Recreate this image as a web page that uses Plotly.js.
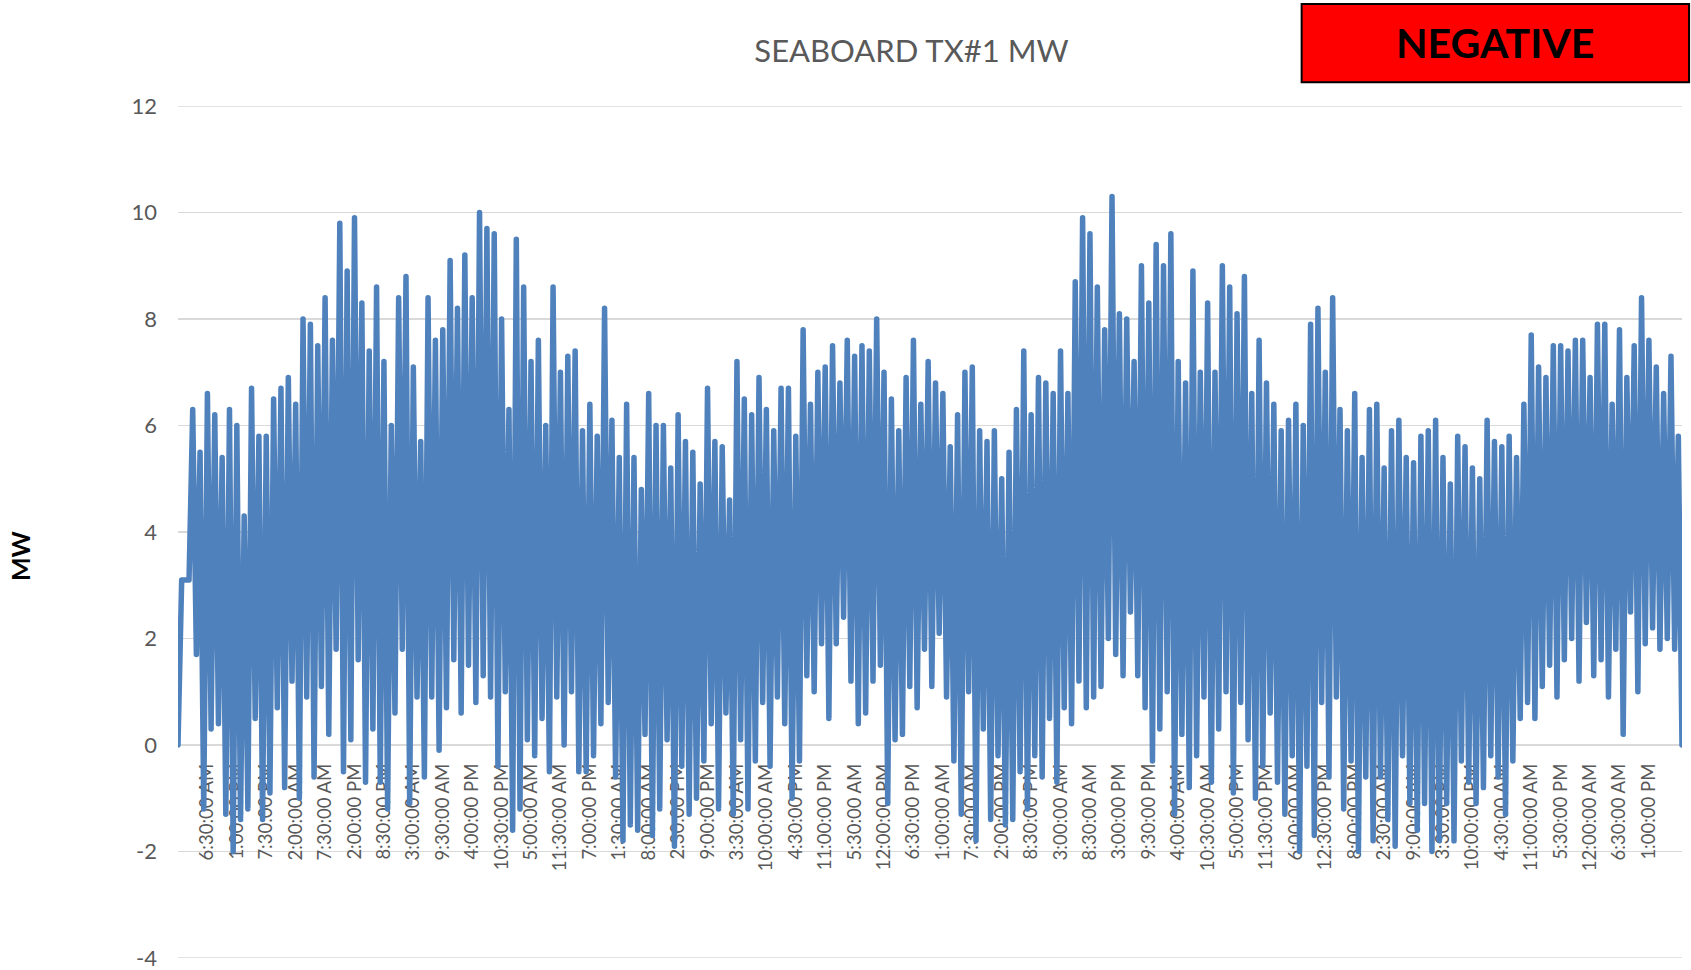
<!DOCTYPE html>
<html>
<head>
<meta charset="utf-8">
<script src="https://cdn.plot.ly/plotly-3.0.1.min.js"></script>
<style>
  html, body { margin: 0; padding: 0; background: #ffffff; }
  #chart { width: 1691px; height: 970px; }
  .scatterlayer .js-line { stroke-linejoin: round; stroke-linecap: round; }
</style>
</head>
<body>
<div id="chart"></div>
<script>
// ---- DATA ----
const chartTitle = 'SEABOARD TX#1 MW';
const yAxisTitle = 'MW';
const badgeText = 'NEGATIVE';

// Category labels shown on the horizontal axis (every 8th sample)
const tickLabels = [
  '6:30:00 AM','1:00:00 PM','7:30:00 PM','2:00:00 AM','7:30:00 AM','2:00:00 PM','8:30:00 PM','3:00:00 AM',
  '9:30:00 AM','4:00:00 PM','10:30:00 PM','5:00:00 AM','11:30:00 AM','7:00:00 PM','1:30:00 AM','8:00:00 AM',
  '2:30:00 PM','9:00:00 PM','3:30:00 AM','10:00:00 AM','4:30:00 PM','11:00:00 PM','5:30:00 AM','12:00:00 PM',
  '6:30:00 PM','1:00:00 AM','7:30:00 AM','2:00:00 PM','8:30:00 PM','3:00:00 AM','8:30:00 AM','3:00:00 PM',
  '9:30:00 PM','4:00:00 AM','10:30:00 AM','5:00:00 PM','11:30:00 PM','6:00:00 AM','12:30:00 PM','8:00:00 PM',
  '2:30:00 AM','9:00:00 AM','3:30:00 PM','10:00:00 PM','4:30:00 AM','11:00:00 AM','5:30:00 PM','12:00:00 AM',
  '6:30:00 AM','1:00:00 PM'
];
const samplesPerLabel = 8;

// Value-axis ticks
const yTickVals = [-4, -2, 0, 2, 4, 6, 8, 10, 12];
const yTickText = ['-4', '-2', '0', '2', '4', '6', '8', '10', '12'];

// MW readings (8 samples per label interval)
const mwValues = [
  0, 3.1, 3.1, 3.1, 6.3, 1.7, 5.5, -1.2,
  6.6, 0.3, 6.2, 0.4, 5.4, -1.3, 6.3, -2.0,
  6.0, -1.4, 4.3, -1.2, 6.7, 0.5, 5.8, -1.4,
  5.8, -0.9, 6.5, 0.7, 6.7, -0.8, 6.9, 1.2,
  6.4, -1.0, 8.0, 0.9, 7.9, -0.6, 7.5, 1.1,
  8.4, 0.2, 7.6, 1.8, 9.8, -0.5, 8.9, 0.1,
  9.9, 1.6, 8.3, -0.7, 7.4, 0.3, 8.6, -0.7,
  7.2, -1.2, 6.0, 0.6, 8.4, 1.8, 8.8, -1.1,
  7.1, 0.9, 5.7, -0.6, 8.4, 0.9, 7.6, -0.1,
  7.8, 0.7, 9.1, 1.6, 8.2, 0.6, 9.2, 1.5,
  8.4, 0.8, 10.0, 1.3, 9.7, 0.9, 9.6, -0.4,
  8.0, 1.0, 6.3, -1.6, 9.5, -1.2, 8.6, 0.1,
  7.2, -0.2, 7.6, 0.5, 6.0, -0.5, 8.6, 0.9,
  7.0, 0.0, 7.3, 1.0, 7.4, -0.5, 5.9, -0.5,
  6.4, -0.2, 5.8, 0.4, 8.2, 0.8, 6.1, -0.6,
  5.4, -1.8, 6.4, -1.5, 5.4, -1.6, 4.8, 0.2,
  6.6, -1.7, 6.0, -1.2, 6.0, 0.1, 5.2, -1.9,
  6.2, -0.4, 5.7, -1.3, 5.5, -1.0, 4.9, -0.3,
  6.7, 0.4, 5.7, -1.2, 5.6, 0.6, 4.6, -1.3,
  7.2, 0.1, 6.5, -1.2, 6.2, -0.3, 6.9, 0.8,
  6.3, -0.4, 5.9, 0.9, 6.7, 0.4, 6.7, -1.0,
  5.8, -0.3, 7.8, 1.3, 6.4, 1.0, 7.0, 1.9,
  7.1, 0.5, 7.5, 1.9, 6.8, 2.4, 7.6, 1.2,
  7.3, 0.4, 7.5, 0.6, 7.4, 1.2, 8.0, 1.5,
  7.0, -1.1, 6.5, 0.1, 5.9, 0.2, 6.9, 1.1,
  7.6, 0.7, 6.4, 1.8, 7.2, 1.1, 6.8, 2.1,
  6.6, 0.9, 5.6, -0.3, 6.2, -1.3, 7.0, 1.0,
  7.1, -1.8, 5.9, 0.3, 5.7, -1.4, 5.9, -0.2,
  5.0, -1.5, 5.5, -1.4, 6.3, -0.5, 7.4, -1.2,
  6.2, -0.2, 6.9, -0.6, 6.8, 0.5, 6.6, -0.7,
  7.4, 0.7, 6.6, 0.4, 8.7, 1.2, 9.9, 0.7,
  9.6, 0.9, 8.6, 1.1, 7.8, 2.0, 10.3, 1.7,
  8.1, 1.3, 8.0, 2.5, 7.2, 1.3, 9.0, 0.7,
  8.3, -0.3, 9.4, 0.3, 9.0, 1.0, 9.6, -1.3,
  7.2, 0.2, 6.8, -0.8, 8.9, -0.2, 7.0, 0.9,
  8.3, -0.7, 7.0, 0.3, 9.0, 1.0, 8.6, -0.9,
  8.1, 0.8, 8.8, 0.1, 6.6, -1.0, 7.6, -0.4,
  6.8, 0.6, 6.4, -0.7, 5.9, -1.3, 6.1, -0.2,
  6.4, -2.0, 6.0, -0.4, 7.9, -1.7, 8.2, 0.8,
  7.0, -0.6, 8.4, 0.9, 6.3, -1.2, 5.9, -0.3,
  6.6, -2.0, 5.4, -0.6, 6.3, -1.8, 6.4, -0.6,
  5.2, -1.4, 5.9, -1.9, 6.1, -0.2, 5.4, -1.1,
  5.3, -1.6, 5.8, -1.1, 5.9, -2.0, 6.1, -1.8,
  5.4, -1.1, 4.9, -1.8, 5.8, -0.3, 5.6, -0.7,
  5.2, -1.1, 5.0, -0.8, 6.1, -0.2, 5.7, -0.6,
  5.6, -1.3, 5.8, -0.3, 5.4, 0.5, 6.4, 0.8,
  7.7, 0.5, 7.1, 1.1, 6.9, 1.5, 7.5, 0.9,
  7.5, 1.6, 7.4, 2.0, 7.6, 1.2, 7.6, 2.3,
  6.9, 1.3, 7.9, 1.6, 7.9, 0.9, 6.4, 1.8,
  7.8, 0.2, 6.9, 2.5, 7.5, 1.0, 8.4, 1.9,
  7.6, 2.2, 7.1, 1.8, 6.6, 2.0, 7.3, 1.8,
  5.8, 0
];

// ---- BUILD ----
const xIdx = mwValues.map((_, i) => i);
const tickVals = tickLabels.map((_, i) => (i + 1) * samplesPerLabel);
const FONT = 'Lato, Open Sans, sans-serif';
const GRID = '#d9d9d9';

const trace = {
  x: xIdx,
  y: mwValues,
  type: 'scatter',
  mode: 'lines',
  line: { color: '#4f81bd', width: 5.5 },
  hoverinfo: 'y'
};

// gridlines at the two ends of the value axis (Plotly omits edge gridlines)
const edgeGrid = [yTickVals[0], yTickVals[yTickVals.length - 1]].map(v => ({
  type: 'line', xref: 'paper', yref: 'y', x0: 0, x1: 1, y0: v, y1: v,
  line: { color: GRID, width: 1.3 }, layer: 'below'
}));

const layout = {
  width: 1691,
  height: 970,
  margin: { l: 178, r: 9, t: 106, b: 12 },
  paper_bgcolor: '#ffffff',
  plot_bgcolor: '#ffffff',
  showlegend: false,
  title: {
    text: chartTitle,
    font: { family: FONT, size: 31, color: '#595959' },
    xref: 'container', x: 0.539, xanchor: 'center',
    yref: 'container', y: 0.947, yanchor: 'middle'
  },
  xaxis: {
    range: [0, mwValues.length - 1],
    tickmode: 'array',
    tickvals: tickVals,
    ticktext: tickLabels,
    tickangle: -90,
    anchor: 'free',
    position: 0.25,
    showgrid: false,
    zeroline: false,
    showline: false,
    ticks: '',
    ticklabelstandoff: 14,
    ticklabeloverflow: 'allow',
    tickfont: { family: FONT, size: 18.5, color: '#595959' },
    layer: 'below traces'
  },
  yaxis: {
    range: [-4, 12],
    tickmode: 'array',
    tickvals: yTickVals,
    ticktext: yTickText,
    showgrid: true,
    gridcolor: GRID,
    gridwidth: 1.3,
    zeroline: false,
    showline: false,
    ticks: '',
    ticklabelstandoff: 20,
    ticklabeloverflow: 'allow',
    tickfont: { family: FONT, size: 22, color: '#595959' }
  },
  shapes: edgeGrid.concat([{
    type: 'rect', xref: 'paper', yref: 'paper',
    x0: 0.7471, x1: 1.0047, y0: 1.0278, y1: 1.1197,
    fillcolor: '#ff0000',
    line: { color: '#000000', width: 2 }
  }]),
  annotations: [{
    text: badgeText,
    xref: 'paper', yref: 'paper',
    x: 0.8757, y: 1.0742, xanchor: 'center', yanchor: 'middle',
    showarrow: false,
    font: { family: FONT, size: 41, color: '#000000', weight: 'bold' }
  }, {
    text: yAxisTitle,
    xref: 'paper', yref: 'paper',
    x: -0.105, y: 0.4718, xanchor: 'center', yanchor: 'middle',
    textangle: -90,
    showarrow: false,
    font: { family: FONT, size: 25, color: '#000000', weight: 'bold' }
  }]
};

Plotly.newPlot('chart', [trace], layout, { displayModeBar: false, staticPlot: true });
</script>
</body>
</html>
